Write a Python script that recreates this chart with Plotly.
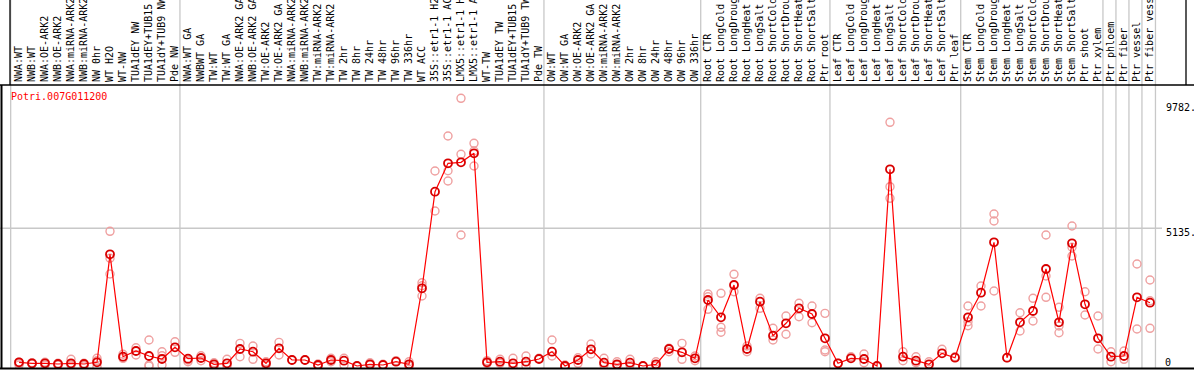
import plotly.graph_objects as go

labels = [
    "NWA:WT", "NWB:WT", "NWA:OE-ARK2", "NWB:OE-ARK2", "NWA:miRNA-ARK2", "NWB:miRNA-ARK2",
    "NW 0hr", "WT H2O", "WT-NW", "TUA1dEY NW", "TUA1dEY+TUB15", "TUA1dY+TUB9 NW", "Pde NW",
    "NWA:WT GA", "NWBWT GA", "TW:WT", "TW:WT GA", "NWA:OE-ARK2 GA", "NWB:OE-ARK2 GA",
    "TW:OE-ARK2", "TW:OE-ARK2 GA", "NWA:miRNA-ARK2", "NWB:miRNA-ARK2", "TW:miRNA-ARK2",
    "TW:miRNA-ARK2", "TW 2hr", "TW 8hr", "TW 24hr", "TW 48hr", "TW 96hr", "TW 336hr",
    "WT ACC", "35S::etr1-1 H2O", "35S::etr1-1 ACC", "LMX5::etr1-1 H2O", "LMX5::etr1-1 ACC",
    "WT-TW", "TUA1dEY TW", "TUA1dEY+TUB15", "TUA1dY+TUB9 TW", "Pde TW",
    "OW:WT", "OW:WT GA", "OW:OE-ARK2", "OW:OE-ARK2 GA", "OW:miRNA-ARK2", "OW:miRNA-ARK2",
    "OW 2hr", "OW 8hr", "OW 24hr", "OW 48hr", "OW 96hr", "OW 336hr",
    "Root CTR", "Root LongCold", "Root LongDrought", "Root LongHeat", "Root LongSalt",
    "Root ShortCold", "Root ShortDrought", "Root ShortHeat", "Root ShortSalt", "Ptr root",
    "Leaf CTR", "Leaf LongCold", "Leaf LongDrought", "Leaf LongHeat", "Leaf LongSalt",
    "Leaf ShortCold", "Leaf ShortDrought", "Leaf ShortHeat", "Leaf ShortSalt", "Ptr leaf",
    "Stem CTR", "Stem LongCold", "Stem LongDrought", "Stem LongHeat", "Stem LongSalt",
    "Stem ShortCold", "Stem ShortDrought", "Stem ShortHeat", "Stem ShortSalt", "Ptr shoot",
    "Ptr xylem", "Ptr phloem", "Ptr fiber", "Ptr vessel", "Ptr fiber vessel",
]

mean_values = [
    163, 126, 126, 100, 126, 100, 163, 4169, 371, 582, 397, 286, 719,
    297, 323, 89, 126, 656, 556, 126, 682, 248, 248, 63, 248, 223, 26, 89, 63, 185, 89,
    2907, 6491, 7544, 7582, 7915, 163, 185, 126, 185, 286,
    556, 26, 248, 645, 148, 89, 148, 26, 89, 656, 534, 311,
    2474, 1832, 3030, 656, 2411, 1150, 1610, 2166, 1955, 1053,
    126, 311, 286, 26, 7322, 371, 223, 89, 497, 334,
    1832, 2745, 4614, 334, 1647, 2066, 3624, 1647, 4577, 2314,
    1053, 371, 397, 2574, 2374,
]

rep_a = [
    163, 126, 163, 126, 274, 100, 311, 5022, 460, 705, 990, 556, 927,
    248, 408, 148, 274, 867, 768, 185, 904, 248, 248, 100, 311, 311, 26, 148, 89, 223, 185,
    3116, 7259, 8557, 9955, 8286, 223, 274, 311, 397, 311,
    990, 63, 334, 842, 311, 185, 274, 26, 185, 682, 867, 397,
    2696, 2722, 3427, 768, 2537, 1424, 1880, 2352, 2252, 1980,
    126, 371, 471, 26, 9065, 556, 371, 185, 645, 371,
    2252, 2993, 5664, 334, 2003, 2537, 4885, 2203, 5219, 2782,
    1880, 556, 582, 3809, 3216,
]

rep_b = [
    63, 100, 63, 63, 63, 37, 223, 4021, 311, 434, 63, 408, 534,
    185, 223, 26, 26, 371, 274, 63, 434, None, None, 26, 185, 63, None, 63, None, None, 26,
    3004, 5775, 7270, 7878, 8000, 126, 126, 0, 26, None,
    397, 0, 126, 471, 63, 50, 63, None, 26, 556, 274, 223,
    2596, 1461, 2782, 556, 2166, 990, 1202, 1855, 1632, 619,
    None, None, 148, None, 6677, 223, 148, None, None, None,
    1669, 2252, 5404, None, 1324, 1695, 3364, 1510, 4429, 1918,
    656, 185, 274, 1398, 2448,
]

rep_c = [
    126, 148, 148, 100, 100, 126, 0, 3438, 371, None, 26, 63, None,
    None, None, None, None, None, None, None, None, None, None, None, None, None, None, None, None, None, None,
    2622, None, 6888, 4885, 7444, None, None, None, None, None,
    None, None, None, None, None, None, None, None, None, None, None, None,
    2129, 1276, None, None, None, None, None, None, None, 556,
    None, None, None, None, 6246, None, None, None, None, None,
    1521, None, 2808, None, None, None, 2574, 1261, 4106, None,
    None, None, None, None, 1424,
]

tick_vals = [0, 5135, 9782]
tick_text = ["0", "5135.", "9782."]
group_breaks = [-0.64, 12.38, 40.38, 52.44, 62.38, 72.44, 83.38, 84.38, 85.38, 86.38, 87.42]
gene_name = "Potri.007G011200"

W, H = 1194, 370
ML, MR, MT, MB = 1, 32, 85, 2
PW = W - ML - MR
PH = H - MT - MB

xs = list(range(len(labels)))
rep_x, rep_y = [], []
for reps in (rep_a, rep_b, rep_c):
    for i, v in enumerate(reps):
        if v is not None:
            rep_x.append(i)
            rep_y.append(v)

fig = go.Figure()
fig.add_trace(go.Scatter(
    x=rep_x, y=rep_y, mode="markers",
    marker=dict(symbol="circle-open", size=8, color="#EFA0A0", line=dict(width=1.4)),
    hoverinfo="skip", showlegend=False,
))
fig.add_trace(go.Scatter(
    x=xs, y=mean_values, mode="lines+markers",
    line=dict(color="#FF0000", width=1.2),
    marker=dict(symbol="circle-open", size=8, color="#D80000", line=dict(width=1.8)),
    showlegend=False,
))

def px_x(p):
    return (p - ML) / PW

def px_y(p):
    return (H - MB - p) / PH

shapes = []
for b in group_breaks:
    shapes.append(dict(type="line", xref="x", yref="paper", x0=b, x1=b,
                       y0=0, y1=px_y(0), line=dict(color="#C8C8C8", width=1.3), layer="below"))
shapes.append(dict(type="line", xref="paper", yref="y", x0=px_x(0), x1=px_x(1162),
                   y0=tick_vals[1], y1=tick_vals[1], line=dict(color="#C8C8C8", width=1.3), layer="below"))
shapes.append(dict(type="line", xref="paper", yref="paper", x0=px_x(0), x1=px_x(W),
                   y0=1, y1=1, line=dict(color="black", width=1.3)))
shapes.append(dict(type="line", xref="paper", yref="paper", x0=px_x(10), x1=px_x(10),
                   y0=1, y1=px_y(0), line=dict(color="black", width=1.3)))
shapes.append(dict(type="line", xref="paper", yref="paper", x0=px_x(1186), x1=px_x(1186),
                   y0=1, y1=px_y(0), line=dict(color="black", width=1.3)))
shapes.append(dict(type="line", xref="paper", yref="paper", x0=px_x(1.5), x1=px_x(1.5),
                   y0=0, y1=1, line=dict(color="black", width=2)))
shapes.append(dict(type="line", xref="paper", yref="paper", x0=px_x(0), x1=px_x(W),
                   y0=px_y(368.5), y1=px_y(368.5), line=dict(color="black", width=2)))

annotations = [
    dict(text=gene_name, xref="paper", yref="paper", x=px_x(9), y=px_y(97),
         xanchor="left", yanchor="middle", showarrow=False,
         font=dict(family="DejaVu Sans Mono", size=10, color="#FF0000")),
]
label_y = {0: 362, 5135: 232, 9782: 107}
for v, t in zip(tick_vals, tick_text):
    annotations.append(dict(text=t, xref="paper", yref="paper", x=px_x(1164 if v else 1163),
                            y=px_y(label_y[v]), xanchor="left", yanchor="middle", showarrow=False,
                            font=dict(family="DejaVu Sans Mono", size=10, color="black")))

x0 = -(19 - ML) / 13.0
x1 = x0 + PW / 13.0
ymin = -48
ymax = ymin + PH / 0.02696

fig.update_layout(
    width=W, height=H,
    margin=dict(l=ML, r=MR, t=MT, b=MB, pad=0, autoexpand=False),
    paper_bgcolor="white", plot_bgcolor="white",
    shapes=shapes, annotations=annotations,
    xaxis=dict(range=[x0, x1], side="top", tickmode="array", tickvals=xs, ticktext=labels,
               tickangle=-90, ticks="", showgrid=False, zeroline=False, showline=False,
               automargin=False,
               tickfont=dict(family="DejaVu Sans Mono", size=10, color="black"),
               ticklabelstandoff=2),
    yaxis=dict(range=[ymin, ymax], showticklabels=False, showgrid=False, zeroline=False,
               showline=False, ticks="", automargin=False),
    hovermode=False,
)

fig.write_html(
    "out.html",
    config={"displayModeBar": False, "staticPlot": True},
    post_script="document.body.style.margin='0';document.body.style.overflow='hidden';",
)
